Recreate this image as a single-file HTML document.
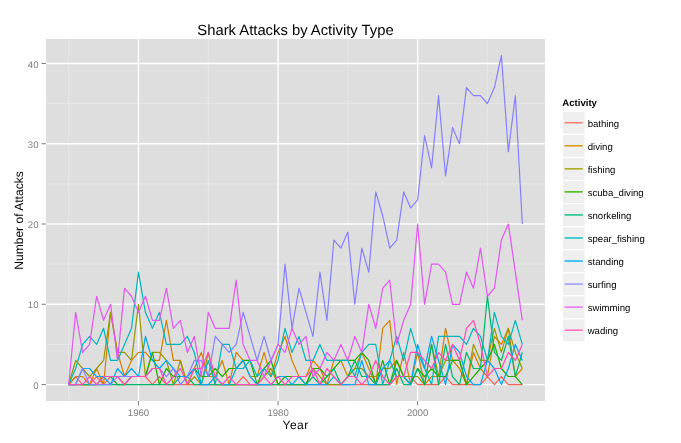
<!DOCTYPE html>
<html><head><meta charset="utf-8"><title>Shark Attacks by Activity Type</title>
<style>
html,body{margin:0;padding:0;background:#fff;}
body{width:681px;height:443px;overflow:hidden;}
svg{display:block;will-change:transform;text-rendering:geometricPrecision;font-family:"Liberation Sans",sans-serif;}
.ax{font-size:9.6px;fill:#7F7F7F;}
.lg{font-size:9.6px;fill:#000;}
.lt{font-size:9.6px;font-weight:bold;fill:#000;}
.at{font-size:12.05px;fill:#000;}
.ti{font-size:14.8px;fill:#000;}
.series polyline{fill:none;stroke-width:1.2;stroke-linejoin:round;stroke-linecap:butt;}
</style></head><body>
<svg width="681" height="443" viewBox="0 0 681 443">
<rect x="0" y="0" width="681" height="443" fill="#FFFFFF"/>
<rect x="46" y="39" width="499" height="362" fill="#DEDEDE"/>
<g><line x1="46" x2="545" y1="344.41" y2="344.41" stroke="#EDEDED" stroke-width="0.6"/>
<line x1="46" x2="545" y1="264.15" y2="264.15" stroke="#EDEDED" stroke-width="0.6"/>
<line x1="46" x2="545" y1="183.88" y2="183.88" stroke="#EDEDED" stroke-width="0.6"/>
<line x1="46" x2="545" y1="103.61" y2="103.61" stroke="#EDEDED" stroke-width="0.6"/>
<line x1="68.68" x2="68.68" y1="39" y2="401" stroke="#EDEDED" stroke-width="0.6"/>
<line x1="208.26" x2="208.26" y1="39" y2="401" stroke="#EDEDED" stroke-width="0.6"/>
<line x1="347.84" x2="347.84" y1="39" y2="401" stroke="#EDEDED" stroke-width="0.6"/>
<line x1="487.42" x2="487.42" y1="39" y2="401" stroke="#EDEDED" stroke-width="0.6"/>
<line x1="46" x2="545" y1="384.55" y2="384.55" stroke="#FFFFFF" stroke-width="1.35"/>
<line x1="46" x2="545" y1="304.28" y2="304.28" stroke="#FFFFFF" stroke-width="1.35"/>
<line x1="46" x2="545" y1="224.01" y2="224.01" stroke="#FFFFFF" stroke-width="1.35"/>
<line x1="46" x2="545" y1="143.75" y2="143.75" stroke="#FFFFFF" stroke-width="1.35"/>
<line x1="46" x2="545" y1="63.48" y2="63.48" stroke="#FFFFFF" stroke-width="1.35"/>
<line x1="138.47" x2="138.47" y1="39" y2="401" stroke="#FFFFFF" stroke-width="1.35"/>
<line x1="278.05" x2="278.05" y1="39" y2="401" stroke="#FFFFFF" stroke-width="1.35"/>
<line x1="417.63" x2="417.63" y1="39" y2="401" stroke="#FFFFFF" stroke-width="1.35"/></g>
<g class="series">
<polyline points="68.68,384.55 75.66,376.52 82.64,384.55 89.62,384.55 96.60,376.52 103.58,384.55 110.56,376.52 117.53,376.52 124.51,384.55 131.49,376.52 138.47,376.52 145.45,376.52 152.43,384.55 159.41,376.52 166.39,384.55 173.37,384.55 180.35,384.55 187.33,384.55 194.30,384.55 201.28,384.55 208.26,384.55 215.24,384.55 222.22,384.55 229.20,384.55 236.18,384.55 243.16,376.52 250.14,384.55 257.12,384.55 264.09,384.55 271.07,384.55 278.05,384.55 285.03,384.55 292.01,384.55 298.99,384.55 305.97,384.55 312.95,384.55 319.93,384.55 326.91,384.55 333.88,384.55 340.86,384.55 347.84,384.55 354.82,384.55 361.80,384.55 368.78,384.55 375.76,384.55 382.74,384.55 389.72,384.55 396.70,376.52 403.67,376.52 410.65,376.52 417.63,384.55 424.61,384.55 431.59,384.55 438.57,384.55 445.55,376.52 452.53,384.55 459.51,384.55 466.49,384.55 473.47,384.55 480.44,384.55 487.42,376.52 494.40,384.55 501.38,376.52 508.36,384.55 515.34,384.55 522.32,384.55" stroke="#F76359"/>
<polyline points="68.68,384.55 75.66,376.52 82.64,376.52 89.62,384.55 96.60,368.49 103.58,384.55 110.56,312.31 117.53,352.44 124.51,376.52 131.49,360.47 138.47,352.44 145.45,352.44 152.43,360.47 159.41,360.47 166.39,320.33 173.37,360.47 180.35,360.47 187.33,384.55 194.30,368.49 201.28,352.44 208.26,376.52 215.24,376.52 222.22,360.47 229.20,384.55 236.18,352.44 243.16,360.47 250.14,376.52 257.12,376.52 264.09,352.44 271.07,376.52 278.05,352.44 285.03,336.39 292.01,360.47 298.99,376.52 305.97,376.52 312.95,360.47 319.93,368.49 326.91,384.55 333.88,360.47 340.86,360.47 347.84,376.52 354.82,368.49 361.80,352.44 368.78,368.49 375.76,384.55 382.74,328.36 389.72,320.33 396.70,384.55 403.67,352.44 410.65,384.55 417.63,352.44 424.61,384.55 431.59,376.52 438.57,376.52 445.55,328.36 452.53,360.47 459.51,368.49 466.49,384.55 473.47,352.44 480.44,368.49 487.42,376.52 494.40,336.39 501.38,344.41 508.36,328.36 515.34,376.52 522.32,368.49" stroke="#D38000"/>
<polyline points="68.68,384.55 75.66,360.47 82.64,368.49 89.62,376.52 96.60,368.49 103.58,360.47 110.56,312.31 117.53,352.44 124.51,352.44 131.49,360.47 138.47,304.28 145.45,376.52 152.43,352.44 159.41,352.44 166.39,360.47 173.37,384.55 180.35,360.47 187.33,384.55 194.30,376.52 201.28,384.55 208.26,352.44 215.24,384.55 222.22,384.55 229.20,384.55 236.18,384.55 243.16,384.55 250.14,384.55 257.12,384.55 264.09,376.52 271.07,368.49 278.05,384.55 285.03,384.55 292.01,384.55 298.99,384.55 305.97,384.55 312.95,368.49 319.93,376.52 326.91,384.55 333.88,384.55 340.86,384.55 347.84,376.52 354.82,368.49 361.80,368.49 368.78,376.52 375.76,376.52 382.74,368.49 389.72,368.49 396.70,360.47 403.67,376.52 410.65,376.52 417.63,376.52 424.61,384.55 431.59,344.41 438.57,376.52 445.55,360.47 452.53,360.47 459.51,360.47 466.49,384.55 473.47,344.41 480.44,360.47 487.42,360.47 494.40,328.36 501.38,352.44 508.36,328.36 515.34,352.44 522.32,368.49" stroke="#969800"/>
<polyline points="68.68,384.55 75.66,384.55 82.64,384.55 89.62,384.55 96.60,384.55 103.58,376.52 110.56,376.52 117.53,384.55 124.51,384.55 131.49,376.52 138.47,376.52 145.45,376.52 152.43,352.44 159.41,384.55 166.39,368.49 173.37,376.52 180.35,376.52 187.33,376.52 194.30,368.49 201.28,376.52 208.26,376.52 215.24,368.49 222.22,376.52 229.20,368.49 236.18,368.49 243.16,360.47 250.14,360.47 257.12,384.55 264.09,368.49 271.07,360.47 278.05,384.55 285.03,376.52 292.01,376.52 298.99,376.52 305.97,384.55 312.95,368.49 319.93,368.49 326.91,376.52 333.88,368.49 340.86,360.47 347.84,360.47 354.82,360.47 361.80,352.44 368.78,360.47 375.76,384.55 382.74,360.47 389.72,384.55 396.70,360.47 403.67,376.52 410.65,384.55 417.63,368.49 424.61,376.52 431.59,368.49 438.57,376.52 445.55,376.52 452.53,360.47 459.51,360.47 466.49,384.55 473.47,376.52 480.44,368.49 487.42,360.47 494.40,344.41 501.38,368.49 508.36,376.52 515.34,376.52 522.32,384.55" stroke="#1DAC00"/>
<polyline points="68.68,384.55 75.66,384.55 82.64,384.55 89.62,384.55 96.60,384.55 103.58,384.55 110.56,384.55 117.53,384.55 124.51,384.55 131.49,384.55 138.47,384.55 145.45,384.55 152.43,384.55 159.41,384.55 166.39,384.55 173.37,384.55 180.35,376.52 187.33,376.52 194.30,384.55 201.28,384.55 208.26,384.55 215.24,384.55 222.22,384.55 229.20,384.55 236.18,384.55 243.16,384.55 250.14,384.55 257.12,384.55 264.09,384.55 271.07,384.55 278.05,384.55 285.03,384.55 292.01,384.55 298.99,384.55 305.97,384.55 312.95,376.52 319.93,384.55 326.91,376.52 333.88,368.49 340.86,384.55 347.84,376.52 354.82,360.47 361.80,376.52 368.78,376.52 375.76,384.55 382.74,384.55 389.72,384.55 396.70,368.49 403.67,384.55 410.65,384.55 417.63,368.49 424.61,384.55 431.59,344.41 438.57,384.55 445.55,344.41 452.53,376.52 459.51,384.55 466.49,352.44 473.47,368.49 480.44,368.49 487.42,296.25 494.40,352.44 501.38,360.47 508.36,336.39 515.34,376.52 522.32,352.44" stroke="#00B66B"/>
<polyline points="68.68,384.55 75.66,368.49 82.64,344.41 89.62,336.39 96.60,344.41 103.58,328.36 110.56,360.47 117.53,360.47 124.51,344.41 131.49,328.36 138.47,272.17 145.45,312.31 152.43,328.36 159.41,312.31 166.39,344.41 173.37,344.41 180.35,344.41 187.33,336.39 194.30,352.44 201.28,384.55 208.26,360.47 215.24,384.55 222.22,344.41 229.20,344.41 236.18,368.49 243.16,368.49 250.14,360.47 257.12,376.52 264.09,368.49 271.07,376.52 278.05,360.47 285.03,328.36 292.01,352.44 298.99,336.39 305.97,360.47 312.95,360.47 319.93,344.41 326.91,360.47 333.88,360.47 340.86,360.47 347.84,360.47 354.82,376.52 361.80,352.44 368.78,344.41 375.76,344.41 382.74,384.55 389.72,360.47 396.70,336.39 403.67,360.47 410.65,328.36 417.63,352.44 424.61,368.49 431.59,384.55 438.57,336.39 445.55,336.39 452.53,336.39 459.51,336.39 466.49,344.41 473.47,328.36 480.44,336.39 487.42,360.47 494.40,312.31 501.38,336.39 508.36,344.41 515.34,320.33 522.32,344.41" stroke="#00B6BC"/>
<polyline points="68.68,384.55 75.66,384.55 82.64,368.49 89.62,368.49 96.60,376.52 103.58,376.52 110.56,384.55 117.53,368.49 124.51,376.52 131.49,368.49 138.47,376.52 145.45,336.39 152.43,360.47 159.41,368.49 166.39,360.47 173.37,368.49 180.35,376.52 187.33,376.52 194.30,368.49 201.28,384.55 208.26,384.55 215.24,376.52 222.22,384.55 229.20,384.55 236.18,368.49 243.16,360.47 250.14,376.52 257.12,384.55 264.09,384.55 271.07,384.55 278.05,376.52 285.03,376.52 292.01,384.55 298.99,376.52 305.97,384.55 312.95,384.55 319.93,384.55 326.91,384.55 333.88,376.52 340.86,384.55 347.84,384.55 354.82,384.55 361.80,360.47 368.78,384.55 375.76,384.55 382.74,368.49 389.72,360.47 396.70,376.52 403.67,376.52 410.65,384.55 417.63,344.41 424.61,368.49 431.59,336.39 438.57,360.47 445.55,384.55 452.53,344.41 459.51,352.44 466.49,376.52 473.47,384.55 480.44,384.55 487.42,360.47 494.40,368.49 501.38,384.55 508.36,368.49 515.34,344.41 522.32,360.47" stroke="#00A5F5"/>
<polyline points="68.68,384.55 75.66,384.55 82.64,368.49 89.62,384.55 96.60,384.55 103.58,384.55 110.56,384.55 117.53,376.52 124.51,376.52 131.49,376.52 138.47,376.52 145.45,376.52 152.43,368.49 159.41,368.49 166.39,376.52 173.37,368.49 180.35,384.55 187.33,376.52 194.30,360.47 201.28,360.47 208.26,376.52 215.24,336.39 222.22,344.41 229.20,352.44 236.18,344.41 243.16,312.31 250.14,336.39 257.12,360.47 264.09,336.39 271.07,360.47 278.05,344.41 285.03,264.15 292.01,328.36 298.99,288.23 305.97,312.31 312.95,336.39 319.93,272.17 326.91,320.33 333.88,240.07 340.86,248.09 347.84,232.04 354.82,304.28 361.80,248.09 368.78,272.17 375.76,191.91 382.74,215.99 389.72,248.09 396.70,240.07 403.67,191.91 410.65,207.96 417.63,199.93 424.61,135.72 431.59,167.83 438.57,95.59 445.55,175.85 452.53,127.69 459.51,143.75 466.49,87.56 473.47,95.59 480.44,95.59 487.42,103.61 494.40,87.56 501.38,55.45 508.36,151.77 515.34,95.59 522.32,224.01" stroke="#8680FF"/>
<polyline points="68.68,384.55 75.66,312.31 82.64,352.44 89.62,344.41 96.60,296.25 103.58,320.33 110.56,304.28 117.53,360.47 124.51,288.23 131.49,296.25 138.47,312.31 145.45,296.25 152.43,320.33 159.41,320.33 166.39,288.23 173.37,328.36 180.35,320.33 187.33,352.44 194.30,336.39 201.28,376.52 208.26,312.31 215.24,328.36 222.22,328.36 229.20,328.36 236.18,280.20 243.16,344.41 250.14,360.47 257.12,360.47 264.09,376.52 271.07,360.47 278.05,344.41 285.03,352.44 292.01,328.36 298.99,344.41 305.97,336.39 312.95,376.52 319.93,368.49 326.91,352.44 333.88,360.47 340.86,344.41 347.84,360.47 354.82,336.39 361.80,352.44 368.78,304.28 375.76,328.36 382.74,288.23 389.72,280.20 396.70,344.41 403.67,320.33 410.65,304.28 417.63,224.01 424.61,304.28 431.59,264.15 438.57,264.15 445.55,272.17 452.53,304.28 459.51,304.28 466.49,272.17 473.47,288.23 480.44,248.09 487.42,296.25 494.40,288.23 501.38,240.07 508.36,224.01 515.34,272.17 522.32,320.33" stroke="#E456F1"/>
<polyline points="68.68,384.55 75.66,384.55 82.64,384.55 89.62,376.52 96.60,384.55 103.58,376.52 110.56,376.52 117.53,376.52 124.51,384.55 131.49,376.52 138.47,376.52 145.45,376.52 152.43,368.49 159.41,368.49 166.39,384.55 173.37,376.52 180.35,368.49 187.33,384.55 194.30,368.49 201.28,368.49 208.26,352.44 215.24,376.52 222.22,384.55 229.20,376.52 236.18,384.55 243.16,384.55 250.14,384.55 257.12,384.55 264.09,376.52 271.07,384.55 278.05,376.52 285.03,384.55 292.01,376.52 298.99,376.52 305.97,376.52 312.95,368.49 319.93,384.55 326.91,368.49 333.88,376.52 340.86,384.55 347.84,376.52 354.82,376.52 361.80,384.55 368.78,376.52 375.76,360.47 382.74,376.52 389.72,384.55 396.70,376.52 403.67,376.52 410.65,352.44 417.63,352.44 424.61,360.47 431.59,368.49 438.57,352.44 445.55,360.47 452.53,344.41 459.51,360.47 466.49,328.36 473.47,320.33 480.44,344.41 487.42,376.52 494.40,368.49 501.38,368.49 508.36,352.44 515.34,360.47 522.32,344.41" stroke="#FF4CB3"/>
</g>
<g><line x1="41.5" x2="46" y1="384.55" y2="384.55" stroke="#7F7F7F" stroke-width="1"/>
<text x="38.5" y="388.65" text-anchor="end" class="ax">0</text>
<line x1="41.5" x2="46" y1="304.28" y2="304.28" stroke="#7F7F7F" stroke-width="1"/>
<text x="38.5" y="308.38" text-anchor="end" class="ax">10</text>
<line x1="41.5" x2="46" y1="224.01" y2="224.01" stroke="#7F7F7F" stroke-width="1"/>
<text x="38.5" y="228.11" text-anchor="end" class="ax">20</text>
<line x1="41.5" x2="46" y1="143.75" y2="143.75" stroke="#7F7F7F" stroke-width="1"/>
<text x="38.5" y="147.85" text-anchor="end" class="ax">30</text>
<line x1="41.5" x2="46" y1="63.48" y2="63.48" stroke="#7F7F7F" stroke-width="1"/>
<text x="38.5" y="67.58" text-anchor="end" class="ax">40</text>
<line x1="138.47" x2="138.47" y1="401" y2="405.3" stroke="#7F7F7F" stroke-width="1"/>
<text x="138.47" y="416.2" text-anchor="middle" class="ax">1960</text>
<line x1="278.05" x2="278.05" y1="401" y2="405.3" stroke="#7F7F7F" stroke-width="1"/>
<text x="278.05" y="416.2" text-anchor="middle" class="ax">1980</text>
<line x1="417.63" x2="417.63" y1="401" y2="405.3" stroke="#7F7F7F" stroke-width="1"/>
<text x="417.63" y="416.2" text-anchor="middle" class="ax">2000</text></g>
<text x="295.5" y="35.2" text-anchor="middle" class="ti">Shark Attacks by Activity Type</text>
<text x="295.6" y="428.8" text-anchor="middle" class="at" style="letter-spacing:0.45px">Year</text>
<text transform="translate(23.3,220.5) rotate(-90)" text-anchor="middle" class="at">Number of Attacks</text>
<text x="562.3" y="106.3" class="lt">Activity</text>
<g><rect x="562.2" y="111.40" width="23" height="23.05" fill="#EFEFEF" stroke="#FFFFFF" stroke-width="1.3"/>
<line x1="564.6" x2="582.8" y1="122.73" y2="122.73" stroke="#F8766D" stroke-width="1.4"/>
<text x="587.7" y="126.83" class="lg">bathing</text>
<rect x="562.2" y="134.45" width="23" height="23.05" fill="#EFEFEF" stroke="#FFFFFF" stroke-width="1.3"/>
<line x1="564.6" x2="582.8" y1="145.78" y2="145.78" stroke="#D89000" stroke-width="1.4"/>
<text x="587.7" y="149.88" class="lg">diving</text>
<rect x="562.2" y="157.50" width="23" height="23.05" fill="#EFEFEF" stroke="#FFFFFF" stroke-width="1.3"/>
<line x1="564.6" x2="582.8" y1="168.83" y2="168.83" stroke="#A3A500" stroke-width="1.4"/>
<text x="587.7" y="172.93" class="lg">fishing</text>
<rect x="562.2" y="180.55" width="23" height="23.05" fill="#EFEFEF" stroke="#FFFFFF" stroke-width="1.3"/>
<line x1="564.6" x2="582.8" y1="191.88" y2="191.88" stroke="#39B600" stroke-width="1.4"/>
<text x="587.7" y="195.98" class="lg">scuba_diving</text>
<rect x="562.2" y="203.60" width="23" height="23.05" fill="#EFEFEF" stroke="#FFFFFF" stroke-width="1.3"/>
<line x1="564.6" x2="582.8" y1="214.93" y2="214.93" stroke="#00BF7D" stroke-width="1.4"/>
<text x="587.7" y="219.03" class="lg">snorkeling</text>
<rect x="562.2" y="226.65" width="23" height="23.05" fill="#EFEFEF" stroke="#FFFFFF" stroke-width="1.3"/>
<line x1="564.6" x2="582.8" y1="237.98" y2="237.98" stroke="#00BFC4" stroke-width="1.4"/>
<text x="587.7" y="242.08" class="lg">spear_fishing</text>
<rect x="562.2" y="249.70" width="23" height="23.05" fill="#EFEFEF" stroke="#FFFFFF" stroke-width="1.3"/>
<line x1="564.6" x2="582.8" y1="261.03" y2="261.03" stroke="#00B0F6" stroke-width="1.4"/>
<text x="587.7" y="265.12" class="lg">standing</text>
<rect x="562.2" y="272.75" width="23" height="23.05" fill="#EFEFEF" stroke="#FFFFFF" stroke-width="1.3"/>
<line x1="564.6" x2="582.8" y1="284.07" y2="284.07" stroke="#9590FF" stroke-width="1.4"/>
<text x="587.7" y="288.17" class="lg">surfing</text>
<rect x="562.2" y="295.80" width="23" height="23.05" fill="#EFEFEF" stroke="#FFFFFF" stroke-width="1.3"/>
<line x1="564.6" x2="582.8" y1="307.12" y2="307.12" stroke="#E76BF3" stroke-width="1.4"/>
<text x="587.7" y="311.22" class="lg">swimming</text>
<rect x="562.2" y="318.85" width="23" height="23.05" fill="#EFEFEF" stroke="#FFFFFF" stroke-width="1.3"/>
<line x1="564.6" x2="582.8" y1="330.18" y2="330.18" stroke="#FF62BC" stroke-width="1.4"/>
<text x="587.7" y="334.27" class="lg">wading</text></g>
</svg>
</body></html>
